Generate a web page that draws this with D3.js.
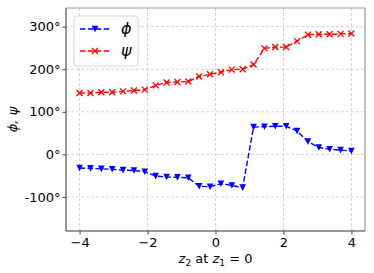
<!DOCTYPE html>
<html>
<head>
<meta charset="utf-8">
<script src="https://cdn.jsdelivr.net/npm/d3@7"></script>
<style>
  body { margin: 0; background: #fff; }
  svg { font-family: "DejaVu Sans", sans-serif; }
</style>
</head>
<body>
<script>
// sample positions along z2 (26 points)
var zValues = [-4, -3.68, -3.36, -3.04, -2.72, -2.4, -2.08, -1.76, -1.44, -1.12,
  -0.8, -0.48, -0.16, 0.16, 0.48, 0.8, 1.12, 1.44, 1.76, 2.08,
  2.4, 2.72, 3.04, 3.36, 3.68, 4];

// angles in degrees
var phiValues = [-32, -33, -34, -35, -37, -38, -41, -51, -53, -54,
  -55, -75, -76, -69, -73, -78, 64, 65, 66, 66,
  55, 30, 16, 12, 10, 8];
var psiValues = [144, 144, 146, 146, 148, 150, 152, 162, 169, 170,
  171, 183, 188, 193, 199, 200, 211, 249, 252, 252,
  266, 281, 282, 282, 283, 284];

var xTicks = [-4, -2, 0, 2, 4];
var yTicks = [-100, 0, 100, 200, 300];

var margin = {top: 8, right: 9, bottom: 42, left: 66},
    width = 374 - margin.left - margin.right,
    height = 273 - margin.top - margin.bottom;

var x = d3.scaleLinear().domain([-4.4, 4.4]).range([0, width]);
var y = d3.scaleLinear().domain([-180, 343.8]).range([height, 0]);

var svg = d3.select("body").append("svg")
    .attr("width", 374)
    .attr("height", 273)
  .append("g")
    .attr("transform", "translate(" + margin.left + "," + margin.top + ")");

// grid
svg.append("g").selectAll("line").data(xTicks).join("line")
    .attr("x1", d => x(d)).attr("x2", d => x(d))
    .attr("y1", 0).attr("y2", height)
    .attr("stroke", "#c8c8c8").attr("stroke-width", 0.8)
    .attr("stroke-dasharray", "3,2");
svg.append("g").selectAll("line").data(yTicks).join("line")
    .attr("x1", 0).attr("x2", width)
    .attr("y1", d => y(d)).attr("y2", d => y(d))
    .attr("stroke", "#c8c8c8").attr("stroke-width", 0.8)
    .attr("stroke-dasharray", "3,2");

// axes
var xAxis = svg.append("g")
    .attr("transform", "translate(0," + height + ")")
    .call(d3.axisBottom(x).tickValues(xTicks).tickSize(3.5).tickPadding(3)
      .tickFormat(d => d < 0 ? "\u2212" + Math.abs(d) : d));
var yAxis = svg.append("g")
    .call(d3.axisLeft(y).tickValues(yTicks).tickSize(3.5).tickPadding(2)
      .tickFormat(d => d + "°"));

[xAxis, yAxis].forEach(function(a) {
  a.select(".domain").remove();
  a.selectAll(".tick line").attr("stroke", "#333").attr("stroke-width", 0.9);
  a.selectAll(".tick text").attr("fill", "#000").style("font-size", "13px")
    .style("font-family", "DejaVu Sans");
});

// spines
svg.append("line").attr("x1", 0).attr("x2", width).attr("y1", 0).attr("y2", 0)
    .attr("stroke", "#999").attr("stroke-width", 1.2);
svg.append("line").attr("x1", width).attr("x2", width).attr("y1", 0).attr("y2", height)
    .attr("stroke", "#999").attr("stroke-width", 1.2);
svg.append("line").attr("x1", 0).attr("x2", width).attr("y1", height).attr("y2", height)
    .attr("stroke", "#333").attr("stroke-width", 1);
svg.append("line").attr("x1", 0).attr("x2", 0).attr("y1", 0).attr("y2", height)
    .attr("stroke", "#333").attr("stroke-width", 1);

var phiData = zValues.map((z, i) => ({z: z, v: phiValues[i]}));
var psiData = zValues.map((z, i) => ({z: z, v: psiValues[i]}));

var line = d3.line().x(d => x(d.z)).y(d => y(d.v));

function triangle(cx, cy, s) {
  return "M" + (cx - s) + "," + (cy - s) + "L" + (cx + s) + "," + (cy - s) +
    "L" + cx + "," + (cy + s) + "Z";
}
function cross(cx, cy, s) {
  return "M" + (cx - s) + "," + (cy - s) + "L" + (cx + s) + "," + (cy + s) +
    "M" + (cx - s) + "," + (cy + s) + "L" + (cx + s) + "," + (cy - s);
}

// phi
svg.append("path").datum(phiData).attr("d", line)
    .attr("fill", "none").attr("stroke", "#0000ff").attr("stroke-width", 1.4)
    .attr("stroke-dasharray", "5.5,2.4");
svg.append("g").selectAll("path").data(phiData).join("path")
    .attr("d", d => triangle(x(d.z), y(d.v), 3.3))
    .attr("fill", "#0000ff");

// psi
svg.append("path").datum(psiData).attr("d", line)
    .attr("fill", "none").attr("stroke", "#ff0000").attr("stroke-width", 1.4)
    .attr("stroke-dasharray", "5.5,2.4");
svg.append("g").selectAll("path").data(psiData).join("path")
    .attr("d", d => cross(x(d.z), y(d.v), 3))
    .attr("fill", "none").attr("stroke", "#ff0000").attr("stroke-width", 1.3);

// legend
var legend = svg.append("g").attr("transform", "translate(8,8)");
legend.append("rect")
    .attr("width", 64).attr("height", 50).attr("rx", 3)
    .attr("fill", "#fff").attr("fill-opacity", 0.8)
    .attr("stroke", "#d6d6d6").attr("stroke-width", 1);
var items = [
  {label: "ϕ", color: "#0000ff", y: 13, mark: "tri"},
  {label: "ψ", color: "#ff0000", y: 35, mark: "x"}
];
items.forEach(function(it) {
  legend.append("line").attr("x1", 6).attr("x2", 36).attr("y1", it.y).attr("y2", it.y)
      .attr("stroke", it.color).attr("stroke-width", 1.4).attr("stroke-dasharray", "5.5,2.4");
  if (it.mark === "tri") {
    legend.append("path").attr("d", triangle(21, it.y, 3.3)).attr("fill", it.color);
  } else {
    legend.append("path").attr("d", cross(21, it.y, 3)).attr("fill", "none")
        .attr("stroke", it.color).attr("stroke-width", 1.3);
  }
  legend.append("text").attr("x", 47).attr("y", it.y + 5)
      .style("font-size", "16px").style("font-style", "italic")
      .text(it.label);
});

// axis labels
svg.append("text")
    .attr("transform", "translate(" + (-49) + "," + (height / 2) + ") rotate(-90)")
    .attr("text-anchor", "middle")
    .style("font-size", "13px").style("font-style", "italic")
    .text("ϕ, ψ");

var xl = svg.append("text")
    .attr("x", width / 2).attr("y", height + 32)
    .attr("text-anchor", "middle")
    .style("font-size", "13px");
xl.append("tspan").style("font-style", "italic").text("z");
xl.append("tspan").attr("dy", 3).style("font-size", "9px").text("2");
xl.append("tspan").attr("dy", -3).text(" at ");
xl.append("tspan").style("font-style", "italic").text("z");
xl.append("tspan").attr("dy", 3).style("font-size", "9px").text("1");
xl.append("tspan").attr("dy", -3).text(" = 0");
</script>
</body>
</html>
